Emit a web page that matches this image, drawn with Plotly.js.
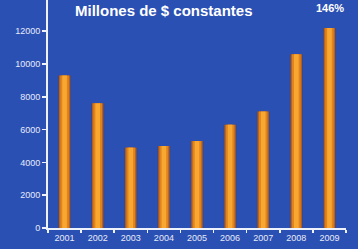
<!DOCTYPE html>
<html><head><meta charset="utf-8">
<script src="https://cdn.plot.ly/plotly-3.0.1.min.js"></script>
<style>html,body{margin:0;padding:0;background:#2b50b4;}#c{width:358px;height:249px;}</style>
</head><body><div id="c"></div>
<script>
const years = ['2001','2002','2003','2004','2005','2006','2007','2008','2009'];
const values = [9300, 7600, 4900, 5000, 5300, 6300, 7100, 10600, 12200];
const yTicks = [0, 2000, 4000, 6000, 8000, 10000, 12000, 14000];
const yTickText = ['0', '2000', '4000', '6000', '8000', '10000', '12000', '14000'];
const titleText = 'Millones de $ constantes';
const growthText = '146%';

const layers = [
  {w: 0.40, c: '#3a4a8a'},
  {w: 0.34, c: '#b8601c'},
  {w: 0.26, c: '#e0841e'},
  {w: 0.14, c: '#f8a830'}
];
const traces = layers.map(l => ({
  type: 'bar', x: years, y: values, width: l.w,
  marker: {color: l.c, line: {width: 0}},
  hoverinfo: 'skip', showlegend: false
}));

Plotly.newPlot('c', traces, {
  width: 358, height: 249,
  margin: {l: 48, r: 12, t: 0, b: 21},
  paper_bgcolor: '#2b50b4', plot_bgcolor: '#2b50b4',
  barmode: 'overlay',
  font: {family: 'Liberation Sans, Arial, sans-serif', color: '#e6ebf7'},
  xaxis: {
    type: 'category', showgrid: false, zeroline: false,
    showline: true, linecolor: '#eef2fb', linewidth: 2,
    ticks: 'outside', tickson: 'boundaries', ticklen: 3, tickcolor: '#eef2fb', tickwidth: 1.5,
    tickfont: {size: 9, color: '#e6ebf7'}
  },
  yaxis: {
    range: [0, 13900], tickvals: yTicks, ticktext: yTickText, showgrid: false, zeroline: false,
    showline: true, linecolor: '#eef2fb', linewidth: 2,
    ticks: 'outside', ticklen: 4, tickcolor: '#eef2fb', tickwidth: 1.5,
    tickfont: {size: 9, color: '#e6ebf7'}
  },
  annotations: [
    {text: '<b>' + titleText + '</b>', xref: 'paper', yref: 'paper', x: 0.39, y: 1.0, xanchor: 'center', yanchor: 'top',
     showarrow: false, font: {size: 15, color: '#ffffff'}},
    {text: '<b>' + growthText + '</b>', xref: 'paper', yref: 'paper', x: 1.0, y: 1.0, xanchor: 'right', yanchor: 'top',
     showarrow: false, font: {size: 11, color: '#ffffff'}}
  ]
}, {displayModeBar: false, staticPlot: true});
</script></body></html>
